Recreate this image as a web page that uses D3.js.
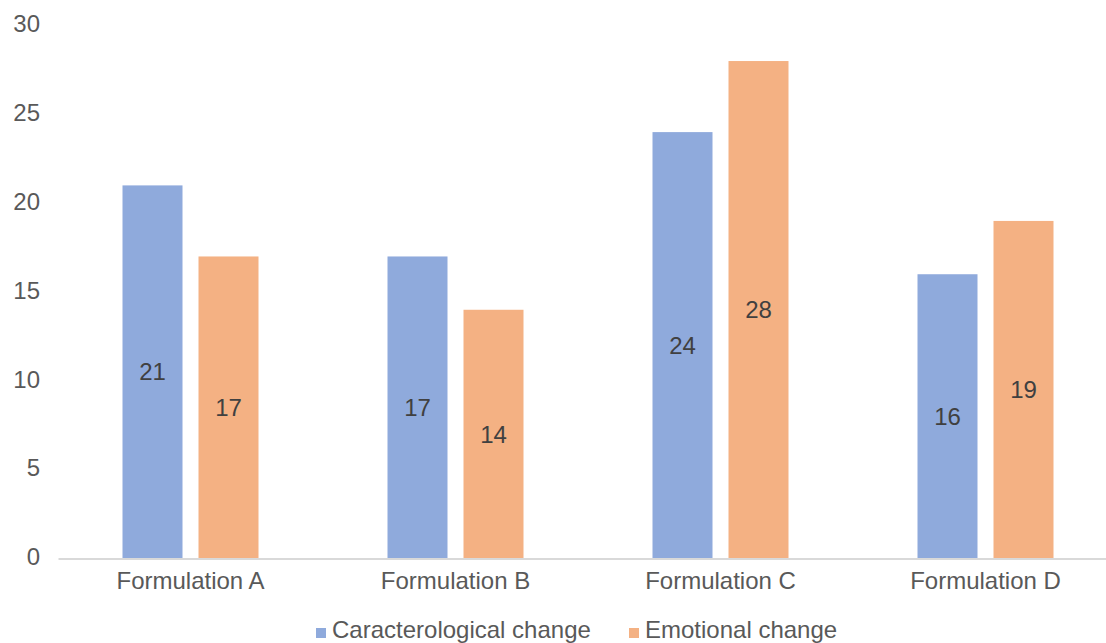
<!DOCTYPE html>
<html>
<head>
<meta charset="utf-8">
<script src="https://cdn.jsdelivr.net/npm/d3@7"></script>
<style>
  html, body { margin: 0; padding: 0; background: #fff; overflow: hidden; }
  svg { display: block; font-family: "Liberation Sans", Arial, Helvetica, sans-serif; }
</style>
</head>
<body>
<svg id="chart" width="1106" height="643"></svg>
<script>
// Categories and series values
const categories = ["Formulation A", "Formulation B", "Formulation C", "Formulation D"];
const seriesNames = ["Caracterological change", "Emotional change"];
const caracterological = [21, 17, 24, 16];
const emotional = [17, 14, 28, 19];
const yTicks = [0, 5, 10, 15, 20, 25, 30];
const colors = ["#8faadc", "#f4b183"];

const svg = d3.select("#chart");
const fontSize = "24px";

const plotLeft = 58, plotRight = 1118;
const plotTop = 25.5, plotBottom = 558.5;

const x = d3.scaleBand().domain(categories).range([plotLeft, plotRight]).paddingInner(0).paddingOuter(0);
const y = d3.scaleLinear().domain([0, 30]).range([plotBottom, plotTop]);

const barW = 60, gap = 16;
const xs = d3.scaleBand().domain(seriesNames)
  .range([0, barW * 2 + gap]).paddingInner(gap / (barW + gap)).paddingOuter(0);

const rows = categories.map((c, i) => ({ cat: c, vals: [caracterological[i], emotional[i]] }));

// Y tick labels (no gridlines)
const yAxis = d3.axisLeft(y).tickValues(yTicks).tickSize(0).tickPadding(0);
const yG = svg.append("g").attr("transform", "translate(40,-1.5)").call(yAxis);
yG.select(".domain").remove();
yG.selectAll("text").attr("fill", "#595959").style("font-size", fontSize)
  .style("font-family", "'Liberation Sans', Arial, sans-serif");

// Bars
const groups = svg.append("g").selectAll("g").data(rows).join("g")
  .attr("transform", d => `translate(${x(d.cat) + (x.bandwidth() - (barW * 2 + gap)) / 2},0)`);

groups.selectAll("rect").data(d => d.vals.map((v, j) => ({ v, s: seriesNames[j], j })))
  .join("rect")
  .attr("x", d => xs(d.s))
  .attr("width", xs.bandwidth())
  .attr("y", d => y(d.v))
  .attr("height", d => y(0) - y(d.v))
  .attr("fill", d => colors[d.j]);

// Value labels centered in the bars
groups.selectAll("text.val").data(d => d.vals.map((v, j) => ({ v, s: seriesNames[j], j })))
  .join("text")
  .attr("class", "val")
  .attr("x", d => xs(d.s) + xs.bandwidth() / 2)
  .attr("y", d => (y(d.v) + y(0)) / 2)
  .attr("text-anchor", "middle")
  .attr("dominant-baseline", "central")
  .attr("fill", "#404040")
  .style("font-size", fontSize)
  .text(d => d.v);

// X axis line and category labels
const xAxis = d3.axisBottom(x).tickSize(0).tickPadding(13);
const xG = svg.append("g").attr("transform", `translate(0,${plotBottom})`).call(xAxis);
xG.select(".domain").attr("stroke", "#d9d9d9").attr("stroke-width", 2);
xG.selectAll("text").attr("fill", "#595959").style("font-size", fontSize)
  .style("font-family", "'Liberation Sans', Arial, sans-serif");

// Legend along the bottom edge
const legendX = [316, 629];
const legend = svg.append("g").attr("transform", "translate(0,638)");
const legendItems = legend.selectAll("g").data(seriesNames).join("g")
  .attr("transform", (d, i) => `translate(${legendX[i]},0)`);
legendItems.append("rect").attr("x", 0).attr("y", -10).attr("width", 10).attr("height", 10)
  .attr("fill", (d, i) => colors[i]);
legendItems.append("text").attr("x", 16).attr("y", 0)
  .attr("fill", "#595959").style("font-size", fontSize).text(d => d);
</script>
</body>
</html>
